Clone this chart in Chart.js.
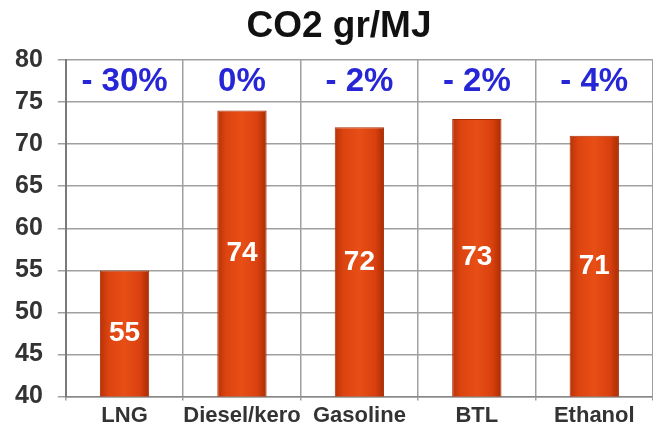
<!DOCTYPE html>
<html>
<head>
<meta charset="utf-8">
<script src="https://cdn.jsdelivr.net/npm/chart.js@4.4.1/dist/chart.umd.min.js"></script>
<style>
  html, body { margin: 0; padding: 0; background: #fff; }
  #wrap { width: 653px; height: 431px; }
</style>
</head>
<body>
<div id="wrap"><canvas id="co2Chart" width="653" height="431"></canvas></div>
<script>
// -------------------------
// Data
// -------------------------
const fuels = ['LNG', 'Diesel/kero', 'Gasoline', 'BTL', 'Ethanol'];
const co2Values = [55, 74, 72, 73, 71];
const changeLabels = ['- 30%', '0%', '- 2%', '- 2%', '- 4%'];
const yTicks = [40, 45, 50, 55, 60, 65, 70, 75, 80];
const chartTitle = 'CO2 gr/MJ';

const FONT = 'Arial, "Liberation Sans", sans-serif';
const BAR_FRACTION = 0.84 * 0.5;

// -------------------------
// Rounded-looking bar fill (darker edges, lighter middle)
// -------------------------
function barFill(context) {
    const chart = context.chart;
    const xScale = chart.scales.x;
    if (!xScale || !chart.chartArea) return '#dc420f';
    const cx = xScale.getPixelForValue(context.dataIndex);
    const half = (chart.chartArea.width / fuels.length) * BAR_FRACTION / 2;
    const g = chart.ctx.createLinearGradient(cx - half, 0, cx + half, 0);
    g.addColorStop(0, '#b93207');
    g.addColorStop(0.18, '#dc4410');
    g.addColorStop(0.5, '#e84e16');
    g.addColorStop(0.82, '#d8400e');
    g.addColorStop(1, '#a82c04');
    return g;
}

// -------------------------
// Title, labels on top band and inside bars
// -------------------------
const labelPlugin = {
    id: 'barLabels',
    afterDatasetsDraw(chart) {
        const ctx = chart.ctx;
        const x = chart.scales.x;
        const y = chart.scales.y;
        ctx.save();
        ctx.textAlign = 'center';
        ctx.textBaseline = 'middle';

        // title, centred a bit right of the canvas middle
        ctx.font = 'bold 37px ' + FONT;
        ctx.fillStyle = '#111';
        ctx.fillText(chartTitle, 339, 27);

        // percentage change in the band between 75 and 80
        ctx.font = 'bold 33px ' + FONT;
        ctx.fillStyle = '#2626d6';
        changeLabels.forEach((txt, i) => {
            ctx.fillText(txt, x.getPixelForValue(i), y.getPixelForValue(77.5) + 1);
        });

        // value in the middle of each bar
        ctx.font = 'bold 28px ' + FONT;
        ctx.fillStyle = '#fff';
        co2Values.forEach((v, i) => {
            ctx.fillText(String(v), x.getPixelForValue(i), y.getPixelForValue((v + y.min) / 2));
        });
        ctx.restore();
    }
};

// -------------------------
// Chart
// -------------------------
const ctx = document.getElementById('co2Chart').getContext('2d');
const co2Chart = new Chart(ctx, {
    type: 'bar',
    data: {
        labels: fuels,
        datasets: [{
            label: chartTitle,
            data: co2Values,
            backgroundColor: barFill,
            borderColor: '#a82c04',
            borderWidth: 1,
            barPercentage: 0.84,
            categoryPercentage: 0.5
        }]
    },
    options: {
        responsive: false,
        animation: false,
        layout: { padding: { left: 0, right: 0, top: 60, bottom: 0 } },
        plugins: {
            legend: { display: false },
            tooltip: { enabled: false },
            title: { display: false }
        },
        scales: {
            x: {
                grid: { color: '#a0a0a0', lineWidth: 1.5, offset: true, tickLength: 4 },
                border: { color: '#888', width: 1.5 },
                ticks: {
                    color: '#333',
                    font: { family: FONT, size: 22, weight: 'bold' },
                    padding: 2,
                    maxRotation: 0,
                    minRotation: 0,
                    autoSkip: false
                }
            },
            y: {
                min: 40,
                max: 80,
                afterBuildTicks: axis => { axis.ticks = yTicks.map(v => ({ value: v })); },
                grid: { color: '#a0a0a0', lineWidth: 1.5, tickLength: 8 },
                border: { color: '#7a7a7a', width: 2 },
                ticks: { color: '#333', font: { family: FONT, size: 25, weight: 'bold' }, padding: 15 }
            }
        }
    },
    plugins: [labelPlugin]
});
</script>
</body>
</html>
